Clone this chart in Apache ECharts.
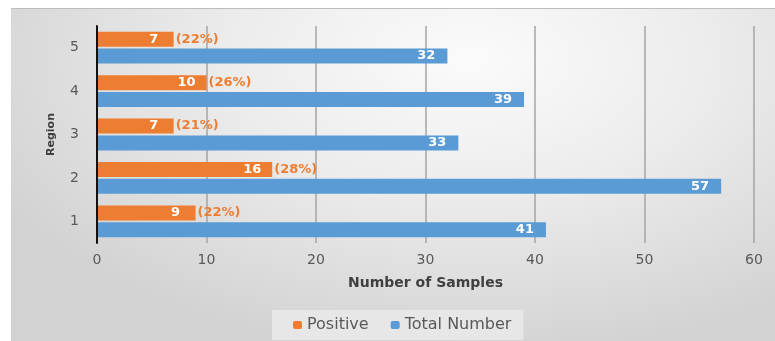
<!DOCTYPE html>
<html>
<head>
<meta charset="utf-8">
<script src="https://cdn.jsdelivr.net/npm/echarts@6/dist/echarts.min.js"></script>
<style>
    html, body { margin: 0; padding: 0; background: #fff; }
    #bg {
        position: absolute; left: 11px; top: 8px; width: 764px; height: 333px;
        border-top: 1px solid #bdbdbd;
        background: radial-gradient(ellipse 70% 90% at 60% 15%, #fbfbfb 0%, #ececec 45%, #d2d2d2 100%);
    }
    #chart { position: absolute; left: 0; top: 0; width: 775px; height: 341px; }
</style>
</head>
<body>
<div id="bg"></div>
<div id="chart"></div>
<script>
// 地区 / 样本数据
var regions = ['1', '2', '3', '4', '5'];
var positive = [9, 16, 7, 10, 7];
var totalNumber = [41, 57, 33, 39, 32];
var positiveRate = ['22%', '28%', '21%', '26%', '22%'];
var xTicks = [0, 60, 10];   // min, max, interval

window.onload = function () {
    chartInit();
}

function chartInit() {
    var myChart = echarts.init(document.getElementById('chart'));
    var font = '"DejaVu Sans", sans-serif';

    var option = {
        backgroundColor: 'transparent',
        textStyle: { fontFamily: font },
        legend: {
            data: ['Positive', 'Total Number'],
            left: 272,
            top: 310,
            padding: [7, 12, 7, 21],
            itemGap: 22,
            itemWidth: 9,
            itemHeight: 8,
            backgroundColor: '#e7e7e7',
            textStyle: { color: '#595959', fontSize: 16, fontFamily: font }
        },
        grid: { left: 97, right: 21, top: 26, bottom: 98 },
        xAxis: {
            type: 'value',
            min: xTicks[0],
            max: xTicks[1],
            interval: xTicks[2],
            name: 'Number of Samples',
            nameLocation: 'middle',
            nameGap: 33,
            nameTextStyle: { color: '#404040', fontSize: 14, fontWeight: 'bold', fontFamily: font },
            axisLine: { show: false },
            axisTick: { show: false },
            axisLabel: { color: '#595959', fontSize: 14, margin: 10, fontFamily: font },
            splitLine: { show: true, lineStyle: { color: '#a4a4a4', width: 1.5 } }
        },
        yAxis: {
            type: 'category',
            data: regions,
            z: 5,
            name: 'Region',
            nameLocation: 'middle',
            nameGap: 40,
            nameTextStyle: { color: '#404040', fontSize: 11, fontWeight: 'bold', fontFamily: font },
            axisLine: { show: true, lineStyle: { color: '#111', width: 2 } },
            axisTick: { show: false },
            axisLabel: { color: '#595959', fontSize: 14, margin: 18, fontFamily: font }
        },
        series: [
            {
                name: 'Positive',
                type: 'bar',
                data: positive,
                barWidth: 15,
                barGap: '12%',
                itemStyle: { color: '#ED7D31' },
                label: {
                    show: true,
                    position: ['100%', '50%'],
                    align: 'left',
                    verticalAlign: 'middle',
                    offset: [-30, 0],
                    formatter: function (p) {
                        return '{v|' + p.value + '}{p|(' + positiveRate[p.dataIndex] + ')}';
                    },
                    rich: {
                        v: { width: 20, align: 'right', color: '#fff', fontWeight: 'bold', fontSize: 13, fontFamily: font },
                        p: { color: '#ED7D31', fontWeight: 'bold', fontSize: 13, fontFamily: font, padding: [0, 0, 0, 12] }
                    }
                }
            },
            {
                name: 'Total Number',
                type: 'bar',
                data: totalNumber,
                barWidth: 15,
                barGap: '12%',
                itemStyle: { color: '#5B9BD5' },
                label: {
                    show: true,
                    position: 'insideRight',
                    distance: 12,
                    color: '#fff',
                    fontWeight: 'bold',
                    fontSize: 13,
                    fontFamily: font
                }
            }
        ]
    };

    myChart.setOption(option);
}
</script>
</body>
</html>
